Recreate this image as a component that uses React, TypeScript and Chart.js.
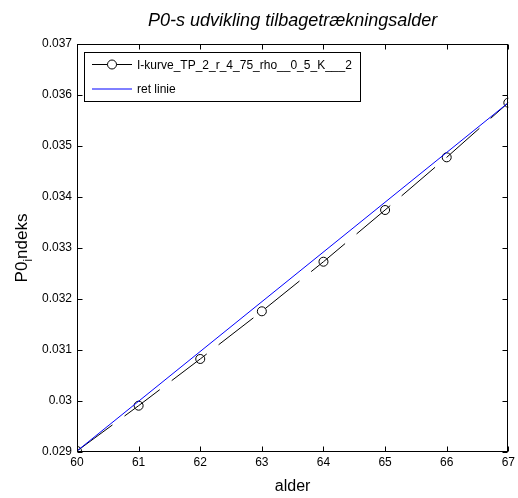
import React, { useEffect, useRef } from "react";
import { Chart, registerables } from "chart.js";

Chart.register(...registerables);

// ---- data ----
const ages = [60, 61, 62, 63, 64, 65, 66, 67];
const p0Values = [0.02902, 0.029908, 0.030824, 0.031759, 0.032731, 0.033745, 0.034778, 0.035849];
const straightX = [60, 67];
const straightY = [0.02902, 0.035849];
const xTicks = [60, 61, 62, 63, 64, 65, 66, 67];
const xTickLabels = ["60", "61", "62", "63", "64", "65", "66", "67"];
const yTicks = [0.029, 0.03, 0.031, 0.032, 0.033, 0.034, 0.035, 0.036, 0.037];
const yTickLabels = ["0.029", "0.03", "0.031", "0.032", "0.033", "0.034", "0.035", "0.036", "0.037"];
const seriesLabels = ["I-kurve_TP_2_r_4_75_rho__0_5_K___2", "ret linie"];
const seriesColors = ["#000000", "#0000ff"];
const titleText = "P0-s udvikling tilbagetrækningsalder";
const xTitle = "alder";
const yTitleParts = ["P0", "i", "ndeks"];

const FONT = '"Liberation Sans", Arial, Helvetica, sans-serif';

const matlabPlugin = {
  id: "matlabLook",
  afterDraw(chart: any) {
    const { ctx, chartArea: a, scales } = chart;
    const L = Math.round(a.left) + 0.5;
    const R = Math.round(a.right) - 0.5;
    const T = Math.round(a.top) + 0.5;
    const B = Math.round(a.bottom) - 0.5;
    ctx.save();
    ctx.strokeStyle = "#000";
    ctx.lineWidth = 1;
    ctx.setLineDash([]);
    ctx.strokeRect(L, T, R - L, B - T);
    const tl = 5;
    ctx.beginPath();
    xTicks.forEach((v) => {
      const px = Math.round(scales.x.getPixelForValue(v)) + 0.5;
      ctx.moveTo(px, B);
      ctx.lineTo(px, B - tl);
      ctx.moveTo(px, T);
      ctx.lineTo(px, T + tl);
    });
    yTicks.forEach((v) => {
      const py = Math.round(scales.y.getPixelForValue(v)) + 0.5;
      ctx.moveTo(L, py);
      ctx.lineTo(L + tl, py);
      ctx.moveTo(R, py);
      ctx.lineTo(R - tl, py);
    });
    ctx.stroke();

    // title
    ctx.fillStyle = "#000";
    ctx.font = `italic 18px ${FONT}`;
    ctx.textAlign = "center";
    ctx.textBaseline = "alphabetic";
    ctx.fillText(titleText, (a.left + a.right) / 2, 26);

    // x title
    ctx.font = `16px ${FONT}`;
    ctx.fillText(xTitle, (a.left + a.right) / 2, 491);

    // y title with subscript
    ctx.save();
    ctx.translate(27, (a.top + a.bottom) / 2);
    ctx.rotate(-Math.PI / 2);
    ctx.textAlign = "left";
    const big = `17px ${FONT}`;
    const small = `12px ${FONT}`;
    ctx.font = big;
    const w1 = ctx.measureText(yTitleParts[0]).width;
    const w3 = ctx.measureText(yTitleParts[2]).width;
    ctx.font = small;
    const w2 = ctx.measureText(yTitleParts[1]).width;
    const x0 = -(w1 + w2 + w3) / 2;
    ctx.font = big;
    ctx.fillText(yTitleParts[0], x0, 0);
    ctx.font = small;
    ctx.fillText(yTitleParts[1], x0 + w1, 5);
    ctx.font = big;
    ctx.fillText(yTitleParts[2], x0 + w1 + w2, 0);
    ctx.restore();

    // legend
    const lx = 84.5, ly = 52.5;
    ctx.font = `12px ${FONT}`;
    const tw = Math.max(...seriesLabels.map((s) => ctx.measureText(s).width));
    const lw = Math.round(137 - 84 + tw + 8);
    const lh = 49;
    ctx.fillStyle = "#fff";
    ctx.fillRect(lx, ly, lw, lh);
    ctx.strokeStyle = "#000";
    ctx.strokeRect(lx, ly, lw, lh);
    const rows = [64.5, 89];
    rows.forEach((yy, i) => {
      ctx.beginPath();
      ctx.strokeStyle = seriesColors[i];
      ctx.lineWidth = 1;
      ctx.moveTo(92, yy);
      ctx.lineTo(132, yy);
      ctx.stroke();
      if (i === 0) {
        ctx.beginPath();
        ctx.fillStyle = "#fff";
        ctx.arc(112, yy, 4.5, 0, Math.PI * 2);
        ctx.fill();
        ctx.stroke();
      }
      ctx.fillStyle = "#000";
      ctx.textAlign = "left";
      ctx.textBaseline = "middle";
      ctx.fillText(seriesLabels[i], 137, Math.round(yy) + 1);
    });
    ctx.restore();
  },
};

export default function App() {
  const ref = useRef<HTMLCanvasElement | null>(null);
  useEffect(() => {
    if (!ref.current) return;
    const chart = new Chart(ref.current, {
      type: "scatter",
      data: {
        datasets: [
          {
            label: seriesLabels[0],
            data: ages.map((x, i) => ({ x, y: p0Values[i] })),
            showLine: true,
            borderColor: seriesColors[0],
            borderWidth: 1,
            borderDash: [44, 15],
            pointRadius: 4.5,
            pointBorderColor: seriesColors[0],
            pointBackgroundColor: "rgba(0,0,0,0)",
            pointBorderWidth: 1,
            order: 1,
          },
          {
            label: seriesLabels[1],
            data: straightX.map((x, i) => ({ x, y: straightY[i] })),
            showLine: true,
            borderColor: seriesColors[1],
            borderWidth: 1,
            pointRadius: 0,
            order: 0,
          },
        ],
      },
      plugins: [matlabPlugin],
      options: {
        animation: false,
        responsive: false,
        devicePixelRatio: 1,
        layout: { padding: { top: 44, right: 8, left: 0, bottom: 0 } },
        plugins: { legend: { display: false }, tooltip: { enabled: false }, title: { display: false } },
        scales: {
          x: {
            type: "linear",
            min: 60,
            max: 67,
            grid: { display: false, drawTicks: false },
            border: { display: false },
            afterBuildTicks: (s: any) => {
              s.ticks = xTicks.map((v) => ({ value: v }));
            },
            afterFit: (s: any) => {
              s.height = 46;
            },
            ticks: {
              padding: 3,
              color: "#000",
              font: { family: FONT, size: 12 },
              maxRotation: 0,
              callback: (_v: any, i: number) => xTickLabels[i],
            },
          },
          y: {
            type: "linear",
            min: 0.029,
            max: 0.037,
            grid: { display: false, drawTicks: false },
            border: { display: false },
            afterBuildTicks: (s: any) => {
              s.ticks = yTicks.map((v) => ({ value: v }));
            },
            afterFit: (s: any) => {
              s.width = 77;
            },
            ticks: {
              padding: 5,
              color: "#000",
              font: { family: FONT, size: 12 },
              callback: (_v: any, i: number) => yTickLabels[i],
            },
          },
        },
      },
    } as any);
    return () => chart.destroy();
  }, []);
  return (
    <div style={{ position: "fixed", left: 0, top: 0, width: 518, height: 498, background: "#fff" }}>
      <canvas ref={ref} width={518} height={498} style={{ width: 518, height: 498, display: "block" }} />
    </div>
  );
}
